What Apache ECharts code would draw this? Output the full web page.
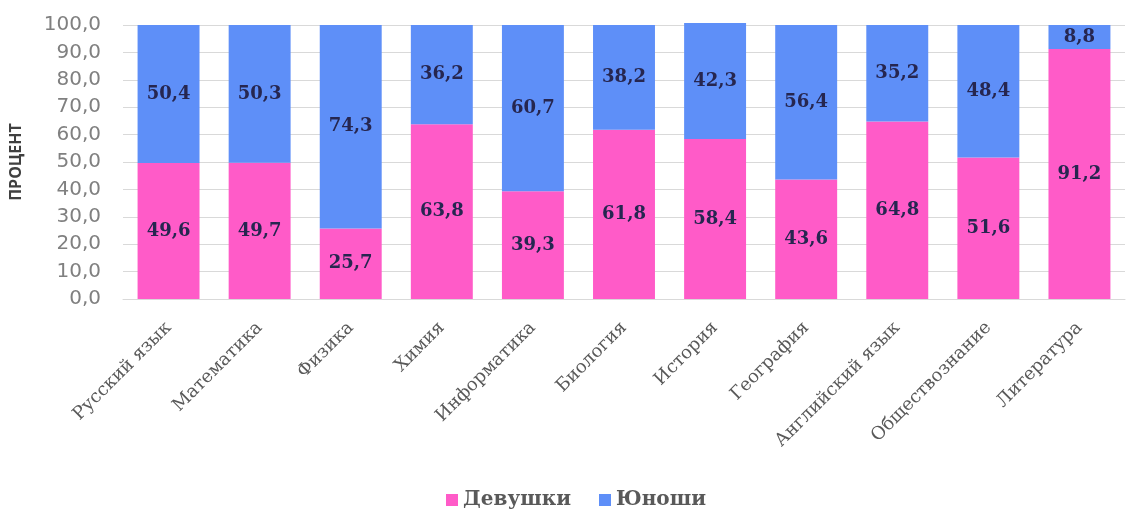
<!DOCTYPE html>
<html><head><meta charset="utf-8">
<script src="https://cdn.jsdelivr.net/npm/echarts@6/dist/echarts.min.js"></script>
<style>html,body{margin:0;padding:0;background:#fff}#c{width:1128px;height:513px}</style>
</head><body><div id="c"></div>
<script>
const categories = ['Русский язык','Математика','Физика','Химия','Информатика','Биология','История','География','Английский язык','Обществознание','Литература'];
const girls = [49.6, 49.7, 25.7, 63.8, 39.3, 61.8, 58.4, 43.6, 64.8, 51.6, 91.2];
const boys = [50.4, 50.3, 74.3, 36.2, 60.7, 38.2, 42.3, 56.4, 35.2, 48.4, 8.8];
const seriesNames = ['Девушки', 'Юноши'];
const yTicks = { min: 0, max: 100, interval: 10 };

const fmt = v => Number(v).toFixed(1).replace('.', ',');
const serif = '"DejaVu Serif", "Liberation Serif", serif';
const chart = echarts.init(document.getElementById('c'), null, { renderer: 'canvas' });
const labelStyle = {
  show: true, position: 'inside', fontFamily: serif, fontWeight: 'bold',
  fontSize: 18, color: '#262650', formatter: p => fmt(p.value)
};
chart.setOption({
  animation: false,
  grid: { left: 118, right: 3, top: 25, bottom: 214, containLabel: false },
  legend: {
    top: 485, left: 441, icon: 'rect', itemWidth: 12, itemHeight: 12, itemGap: 28,
    textStyle: { fontFamily: serif, fontWeight: 'bold', fontSize: 20, color: '#595959' },
    data: seriesNames
  },
  xAxis: {
    type: 'category', data: categories,
    axisLine: { lineStyle: { color: '#d9d9d9' } },
    axisTick: { show: false },
    axisLabel: { rotate: 45, interval: 0, fontFamily: serif, fontSize: 18, color: '#595959', margin: 26 }
  },
  yAxis: {
    type: 'value', min: yTicks.min, max: yTicks.max, interval: yTicks.interval,
    name: 'ПРОЦЕНТ', nameLocation: 'middle', nameGap: 99, nameRotate: 90,
    nameTextStyle: { fontFamily: '"Open Sans", "Noto Sans", sans-serif', fontWeight: 'bold', fontSize: 16, color: '#404040' },
    axisLine: { show: false }, axisTick: { show: false },
    splitLine: { lineStyle: { color: '#d9d9d9' } },
    axisLabel: { formatter: v => fmt(v), fontFamily: '"DejaVu Sans", sans-serif', fontSize: 20, color: '#808080', margin: 22 }
  },
  series: [
    { name: seriesNames[0], type: 'bar', stack: 'a', data: girls, barCategoryGap: '32%',
      itemStyle: { color: '#FF5BC8' }, label: labelStyle, clip: false },
    { name: seriesNames[1], type: 'bar', stack: 'a', data: boys, barCategoryGap: '32%',
      itemStyle: { color: '#5E8FF8' }, label: labelStyle, clip: false }
  ]
});
</script></body></html>
